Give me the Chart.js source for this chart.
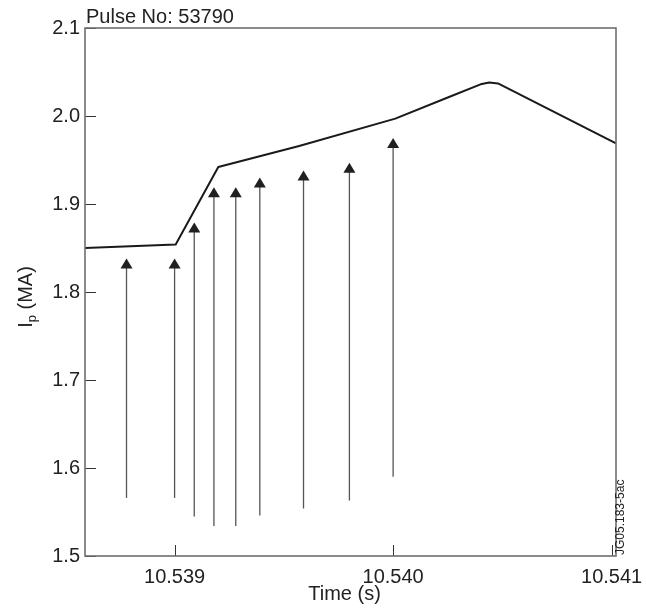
<!DOCTYPE html>
<html>
<head>
<meta charset="utf-8">
<title>Pulse No: 53790</title>
<script src="https://cdn.jsdelivr.net/npm/chart.js@4.4.1/dist/chart.umd.min.js"></script>
<style>
    html, body { margin: 0; padding: 0; background: #fff; }
    #wrap { width: 646px; height: 612px; }
</style>
</head>
<body>
<div id="wrap"><canvas id="ipChart" width="646" height="612"></canvas></div>
<script>
// Plasma current trace
const traceTime = [10.53859, 10.539005, 10.53920, 10.53957, 10.54001, 10.54025, 10.54040, 10.54044, 10.54048, 10.54102];
const traceIp = [1.850, 1.854, 1.942, 1.966, 1.997, 2.021, 2.036, 2.038, 2.037, 1.969];

// Arrows: time, arrow tip and arrow base
const arrowTime = [10.53878, 10.53900, 10.53909, 10.53918, 10.53928, 10.53939, 10.53959, 10.53980, 10.54000];
const arrowTip = [1.838, 1.838, 1.879, 1.919, 1.919, 1.930, 1.938, 1.947, 1.975];
const arrowBase = [1.566, 1.566, 1.545, 1.534, 1.534, 1.546, 1.554, 1.563, 1.590];

// Axis ticks
const timeTicks = [10.539, 10.540, 10.541];
const ipTicks = [1.5, 1.6, 1.7, 1.8, 1.9, 2.0, 2.1];

const FONT = '"Liberation Sans", Arial, Helvetica, sans-serif';

/**
 * Frame, inward ticks and the loose texts
 */
const framePlugin = {
    id: 'frame',
    afterDatasetsDraw(chart) {
        const { ctx, chartArea: a, scales: { x, y } } = chart;
        ctx.save();

        // inward tick marks
        ctx.strokeStyle = '#333';
        ctx.lineWidth = 1;
        timeTicks.forEach(t => {
            const px = Math.round(x.getPixelForValue(t)) + 0.5;
            ctx.beginPath();
            ctx.moveTo(px, a.bottom);
            ctx.lineTo(px, a.bottom - 11);
            ctx.stroke();
        });
        ipTicks.forEach(v => {
            const py = Math.round(y.getPixelForValue(v)) + 0.5;
            ctx.beginPath();
            ctx.moveTo(a.left, py);
            ctx.lineTo(a.left + 11, py);
            ctx.stroke();
        });

        // box round the plot
        ctx.strokeStyle = '#6e6e6e';
        ctx.lineWidth = 1.6;
        ctx.strokeRect(a.left, a.top, a.right - a.left, a.bottom - a.top);

        ctx.fillStyle = '#222';

        // pulse number
        ctx.font = '20px ' + FONT;
        ctx.textAlign = 'left';
        ctx.textBaseline = 'alphabetic';
        ctx.fillText('Pulse No: 53790', a.left + 1, a.top - 5);

        // x axis title
        ctx.textAlign = 'center';
        ctx.textBaseline = 'middle';
        ctx.fillText('Time (s)', (a.left + a.right) / 2 - 6, 594);

        // y axis title with subscript
        ctx.save();
        ctx.translate(26, 297);
        ctx.rotate(-Math.PI / 2);
        ctx.textAlign = 'left';
        ctx.textBaseline = 'middle';
        ctx.font = '20px ' + FONT;
        const wI = ctx.measureText('I').width;
        const wRest = ctx.measureText(' (MA)').width;
        ctx.font = '13px ' + FONT;
        const wP = ctx.measureText('p').width;
        let sx = -(wI + wP + wRest) / 2;
        ctx.font = '20px ' + FONT;
        ctx.fillText('I', sx, 0);
        sx += wI;
        ctx.font = '13px ' + FONT;
        ctx.fillText('p', sx, 6);
        sx += wP;
        ctx.font = '20px ' + FONT;
        ctx.fillText(' (MA)', sx, 0);
        ctx.restore();

        // figure stamp
        ctx.save();
        ctx.translate(621, 555);
        ctx.rotate(-Math.PI / 2);
        ctx.font = '12px ' + FONT;
        ctx.textAlign = 'left';
        ctx.textBaseline = 'middle';
        ctx.fillText('JG05.183-5ac', 0, 0);
        ctx.restore();

        ctx.restore();
    }
};

/**
 * Vertical arrows
 */
const arrowPlugin = {
    id: 'arrows',
    afterDatasetsDraw(chart) {
        const { ctx, scales: { x, y } } = chart;
        ctx.save();
        arrowTime.forEach((t, i) => {
            const px = x.getPixelForValue(t);
            const top = y.getPixelForValue(arrowTip[i]);
            const bottom = y.getPixelForValue(arrowBase[i]);

            ctx.strokeStyle = '#555';
            ctx.lineWidth = 1.3;
            ctx.beginPath();
            ctx.moveTo(px, bottom);
            ctx.lineTo(px, top + 8);
            ctx.stroke();

            ctx.fillStyle = '#231f20';
            ctx.beginPath();
            ctx.moveTo(px, top);
            ctx.lineTo(px - 6, top + 10);
            ctx.lineTo(px + 6, top + 10);
            ctx.closePath();
            ctx.fill();
        });
        ctx.restore();
    }
};

document.addEventListener('DOMContentLoaded', function() {
    const ctx = document.getElementById('ipChart');

    new Chart(ctx, {
        type: 'scatter',
        data: {
            datasets: [{
                label: 'Ip',
                data: traceTime.map((t, i) => ({ x: t, y: traceIp[i] })),
                showLine: true,
                borderColor: '#1a1a1a',
                borderWidth: 2,
                borderJoinStyle: 'round',
                pointRadius: 0,
                tension: 0
            }]
        },
        options: {
            responsive: false,
            animation: false,
            devicePixelRatio: 1,
            layout: {
                padding: { top: 28, right: 30, left: 0, bottom: 0 }
            },
            plugins: {
                legend: { display: false },
                tooltip: { enabled: false },
                title: { display: false }
            },
            scales: {
                x: {
                    type: 'linear',
                    min: 10.53859,
                    max: 10.54102,
                    grid: { display: false, drawTicks: false },
                    border: { display: false },
                    afterBuildTicks: scale => {
                        scale.ticks = timeTicks.map(v => ({ value: v }));
                    },
                    afterFit: scale => {
                        scale.height = 56;
                        scale.paddingLeft = 0;
                        scale.paddingRight = 0;
                    },
                    ticks: {
                        autoSkip: false,
                        maxRotation: 0,
                        padding: 9,
                        color: '#222',
                        font: { family: FONT, size: 20 },
                        callback: value => value.toFixed(3)
                    }
                },
                y: {
                    min: 1.5,
                    max: 2.1,
                    grid: { display: false, drawTicks: false },
                    border: { display: false },
                    afterBuildTicks: scale => {
                        scale.ticks = ipTicks.map(v => ({ value: v }));
                    },
                    afterFit: scale => {
                        scale.width = 85;
                        scale.paddingTop = 0;
                        scale.paddingBottom = 0;
                    },
                    ticks: {
                        padding: 5,
                        color: '#222',
                        font: { family: FONT, size: 20 },
                        callback: value => value.toFixed(1)
                    }
                }
            }
        },
        plugins: [arrowPlugin, framePlugin]
    });
});
</script>
</body>
</html>
